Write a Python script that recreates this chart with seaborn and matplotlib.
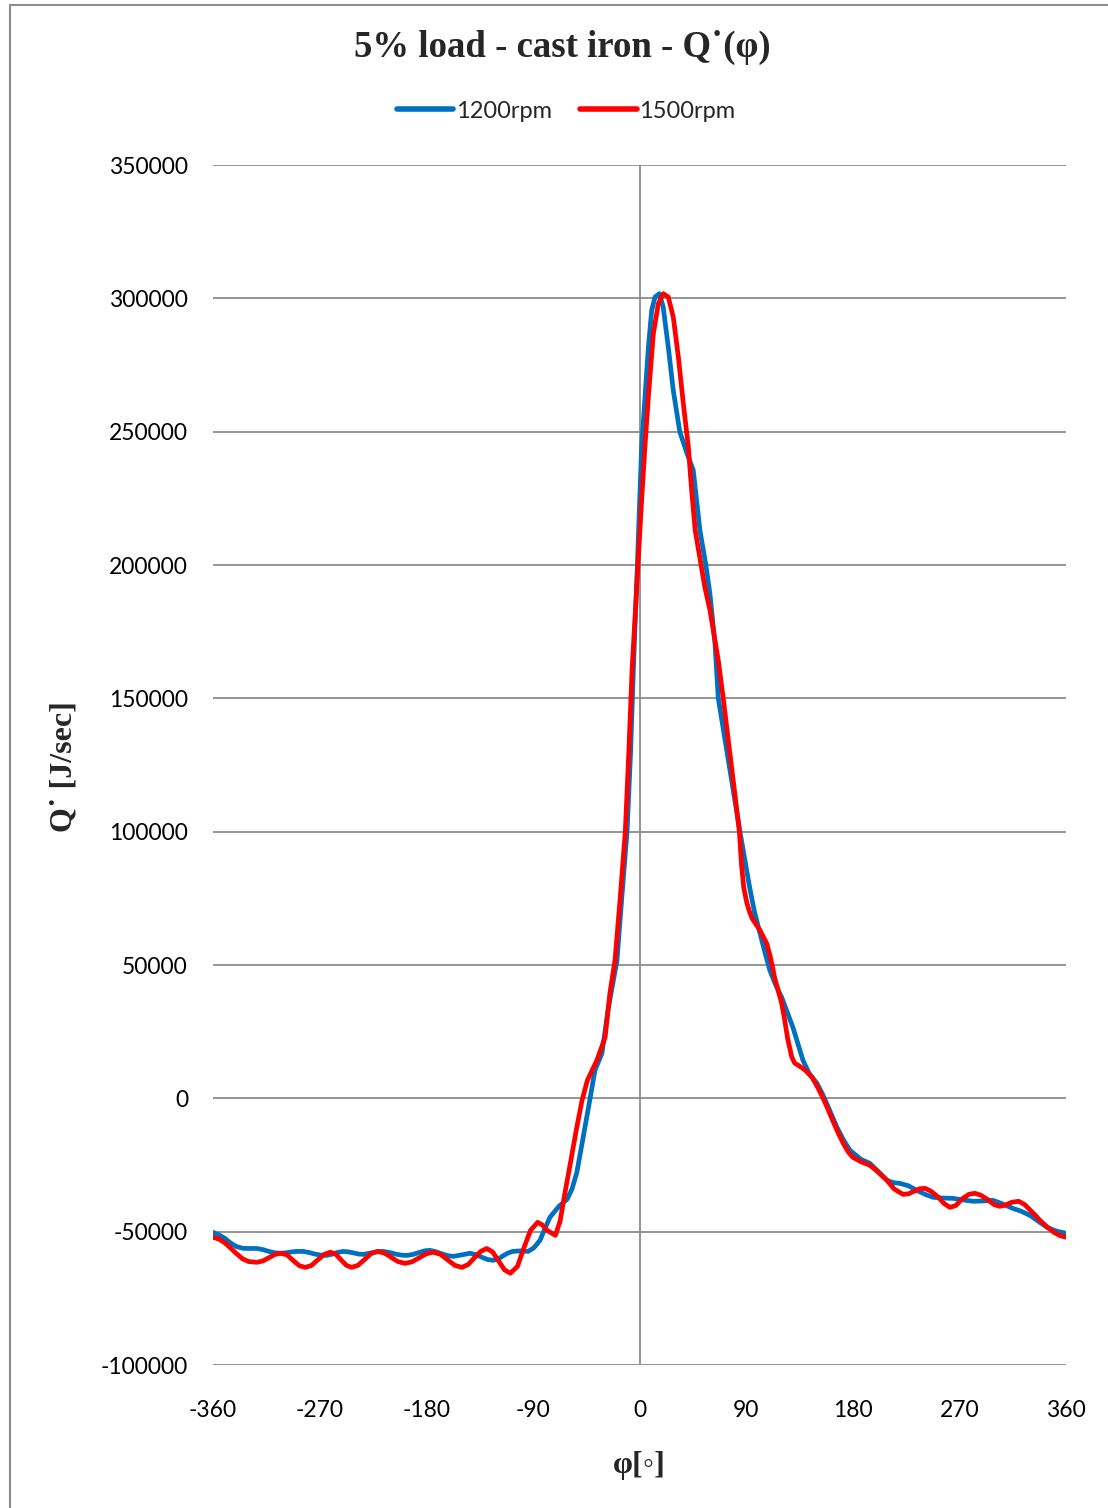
import numpy as np
import pandas as pd
import matplotlib
matplotlib.use("Agg")
import matplotlib.pyplot as plt
from matplotlib.lines import Line2D
import seaborn as sns

# ---------------- data ----------------
phi_1200 = [-360, -355, -350, -345, -340, -334.6, -329, -323, -318, -313, -308, -303,
            -298, -294, -289, -284, -279, -274, -269, -264, -260, -255, -250, -245.5,
            -241, -237, -233, -229, -225, -221, -216.5, -211, -206, -201, -196, -191,
            -186, -181.5, -177, -172, -167, -162, -157, -150, -143, -138, -133, -128.5,
            -123.6, -119, -115, -111, -107, -100, -94, -89, -84, -80, -75.6, -68, -61,
            -57, -53, -48, -42, -37.6, -31.7, -26.6, -19, -15, -10.5, -7.5, -5.2, -1.8,
            1.8, 4.6, 7.5, 10.3, 13.1, 16.7, 20, 24.3, 28.5, 34, 40, 45.4, 51, 56, 59.4,
            63.7, 66.5, 72.6, 78.7, 84.8, 89, 93, 97, 101.7, 106, 110, 115, 120, 125,
            129.5, 134, 138, 143, 149.8, 154, 158, 162, 166.7, 172, 177.7, 187, 194.5,
            201, 209, 214, 220, 227, 234, 241, 247.7, 256, 264.6, 273, 281.5, 290, 298.4,
            306, 315, 322, 329.6, 337, 344, 352, 360]
q_1200 = [-50250, -51200, -52500, -54300, -55600, -56250, -56300, -56300, -56700, -57400,
          -57900, -58100, -57900, -57600, -57400, -57400, -57800, -58400, -58800, -58900,
          -58500, -57800, -57400, -57600, -58000, -58400, -58500, -58200, -57800, -57500,
          -57400, -57800, -58400, -58800, -58900, -58500, -57800, -57200, -57000, -57500,
          -58300, -59000, -59250, -58700, -58100, -58600, -59600, -60400, -60750, -60200,
          -59000, -58000, -57400, -57200, -57400, -56000, -53250, -49000, -44600, -40500,
          -37800, -34000, -28000, -15750, -750, 10500, 16900, 33000, 51750, 75000, 100000,
          130000, 160500, 200000, 244400, 263000, 281700, 295500, 300500, 301750, 296750,
          281700, 265500, 250000, 242000, 235500, 213000, 200000, 189400, 170600, 150000,
          133300, 116700, 100000, 89250, 79000, 70000, 61900, 54500, 48000, 42500, 37900,
          32000, 26600, 20000, 14250, 9500, 5600, 2000, -1900, -6000, -10900, -15500,
          -19500, -22900, -24400, -27200, -30750, -31600, -31900, -32800, -34500, -36000,
          -37100, -37400, -37500, -38100, -38600, -38500, -38250, -39500, -41250, -42300,
          -43900, -46200, -48400, -49800, -50600]

phi_1500 = [-360, -355, -350, -345, -340, -335, -330, -323, -318, -313, -308, -303,
            -297.5, -292.5, -287, -282, -277, -271.5, -266, -261, -256.5, -252, -247.5,
            -243, -237.5, -232, -226.5, -221, -215, -209.5, -204, -198, -192, -186, -180,
            -174, -168, -162, -156, -150, -144.5, -139.5, -134, -129, -124, -119, -114,
            -109, -103, -97.5, -92, -86, -82, -78, -71, -67, -63, -59, -53, -48.5, -44,
            -36, -29, -25, -20.7, -16.5, -12, -9, -6.3, -1.3, 1.5, 4.6, 7.5, 11.7, 15.9,
            20.1, 24.3, 28.5, 32.8, 37, 41.2, 44, 47, 52, 55, 59.5, 63, 66.5, 70.7, 75.2,
            79.8, 84.3, 86, 88, 90.7, 93, 95, 101.7, 107.5, 111, 114, 117, 120, 122.5,
            125, 128.5, 131, 134, 140, 145.6, 150, 155, 159, 163, 167.5, 172, 176, 180,
            187, 194.5, 201, 208.8, 215, 222.4, 227, 232, 236.5, 241, 246, 252, 257, 262,
            267, 272, 278, 283, 288, 294, 299, 304, 309, 314, 320, 325, 330, 334, 338,
            344, 350, 355, 360]
q_1500 = [-52100, -52800, -54200, -56200, -58300, -60200, -61200, -61500, -61000, -59800,
          -58600, -58100, -58700, -60750, -62800, -63400, -62700, -60550, -58500, -57700,
          -58400, -60550, -62600, -63400, -62600, -60400, -58200, -57400, -58100, -59650,
          -61200, -61900, -61300, -59800, -58300, -57700, -58500, -60550, -62600, -63400,
          -62300, -59850, -57400, -56300, -57600, -60950, -64300, -65600, -63000, -56000,
          -49500, -46500, -47500, -49500, -51400, -46000, -35600, -25900, -11000, -750,
          6750, 14250, 22900, 39400, 51750, 74000, 100000, 130000, 160500, 200000, 222000,
          244400, 263000, 286750, 298000, 301750, 300500, 293000, 278000, 260500, 244400,
          228000, 213000, 200000, 192000, 183000, 173500, 164250, 150000, 133300, 116700,
          100000, 88000, 79000, 73100, 69800, 67500, 63000, 58000, 52000, 45400, 40500,
          35600, 29500, 22500, 15500, 13200, 12400, 10500, 7900, 4500, 0, -4000, -8250,
          -12800, -16900, -20000, -22100, -23800, -25100, -27500, -30750, -34000, -36000,
          -35800, -34800, -33900, -33750, -34800, -37000, -39400, -40900, -40200, -37800,
          -36000, -35600, -36300, -38000, -39800, -40500, -40000, -39000, -38600, -39800,
          -42000, -43800, -45750, -48200, -50300, -51500, -52100]

series_names = ["1200rpm", "1500rpm"]
series_colors = ["#0070C0", "#FF0000"]
x_ticks = [-360, -270, -180, -90, 0, 90, 180, 270, 360]
y_ticks = [-100000, -50000, 0, 50000, 100000, 150000, 200000, 250000, 300000, 350000]

title_text = "5% load - cast iron - Q˙(φ)"
y_label = "Q˙ [J/sec]"
x_label = "φ[◦]"

df = pd.concat([
    pd.DataFrame({"phi": phi_1200, "Q": q_1200, "series": series_names[0]}),
    pd.DataFrame({"phi": phi_1500, "Q": q_1500, "series": series_names[1]}),
], ignore_index=True)

# ---------------- figure ----------------
sns.set_style("white")
plt.rcParams['font.family'] = ['Lato', 'DejaVu Sans']

W, H = 1108, 1508
fig = plt.figure(figsize=(W / 100, H / 100), dpi=100)
ax = fig.add_axes([213 / W, 1 - 1365 / H, (1066 - 213) / W, (1365 - 165) / H])

grid_col = "#8C8C8C"
for yv in y_ticks:
    ax.axhline(yv, color=grid_col, lw=1.3, zorder=0)
ax.axvline(0, color=grid_col, lw=1.3, zorder=0)

sns.lineplot(data=df, x="phi", y="Q", hue="series", palette=series_colors,
             sort=False, estimator=None, linewidth=3.4, ax=ax, legend=False)
for ln in ax.lines:
    ln.set_solid_joinstyle("round")
    ln.set_solid_capstyle("round")

ax.set_xlim(-360, 360)
ax.set_ylim(-100000, 350000)
ax.set_xticks(x_ticks)
ax.set_yticks(y_ticks)
ax.set_xticklabels([str(v) for v in x_ticks])
ax.set_yticklabels([str(v) for v in y_ticks])
ax.tick_params(axis="both", length=0, labelsize=16.5, colors="black")
ax.tick_params(axis="y", pad=18)
ax.tick_params(axis="x", pad=25)
ax.set_xlabel("")
ax.set_ylabel("")
for s in ax.spines.values():
    s.set_visible(False)

# legend
handles = [Line2D([0], [0], color=c, lw=4) for c in series_colors]
fig.legend(handles, series_names, loc="center", bbox_to_anchor=(566 / W, 1 - 111 / H),
           ncol=2, frameon=False, fontsize=17, handlelength=2.4, handletextpad=0.1,
           columnspacing=1.2)

serif = ['Liberation Serif', 'DejaVu Serif']
fig.text(562 / W, 1 - 47 / H, title_text, ha="center", va="center", fontsize=26.5,
         fontweight="bold", family=serif)
fig.text(64 / W, 1 - 767 / H, y_label, ha="center", va="center", rotation=90,
         fontsize=23, fontweight="bold", family=serif)
fig.text(639 / W, 1 - 1465 / H, x_label, ha="center", va="center", fontsize=23,
         fontweight="bold", family=serif)

# outer frame (top and left edges visible)
fig.add_artist(Line2D([10 / W, 1.0], [1 - 5 / H, 1 - 5 / H], transform=fig.transFigure,
                      color="#8C8C8C", lw=1.5))
fig.add_artist(Line2D([10 / W, 10 / W], [0, 1 - 5 / H], transform=fig.transFigure,
                      color="#8C8C8C", lw=1.5))

fig.savefig("out.png", dpi=100)
